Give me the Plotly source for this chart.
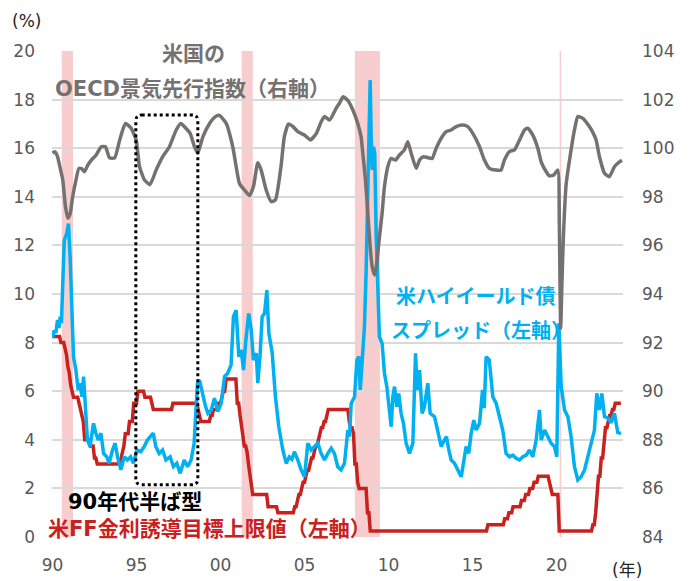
import numpy as np
import pandas as pd
import plotly.graph_objects as go

# ---- US OECD composite leading indicator (right axis) ----
cli_year = [1990.0, 1990.15, 1990.3, 1990.45, 1990.61, 1990.77, 1990.91, 1991.05, 1991.2, 1991.4,
            1991.57, 1991.75, 1991.9, 1992.1, 1992.3, 1992.6, 1992.9, 1993.15, 1993.4, 1993.7,
            1994.0, 1994.2, 1994.35, 1994.68, 1994.98, 1995.18, 1995.48, 1995.8, 1996.17, 1996.56,
            1996.96, 1997.36, 1997.64, 1997.9, 1998.2, 1998.45, 1998.65, 1998.95, 1999.35, 1999.7,
            1999.94, 2000.34, 2000.73, 2001.13, 2001.43, 2001.73, 2001.96, 2002.22, 2002.42, 2002.72,
            2003.02, 2003.27, 2003.6, 2003.8, 2004.05, 2004.3, 2004.6, 2005.0, 2005.35, 2005.7,
            2006.0, 2006.19, 2006.49, 2006.89, 2007.08, 2007.3, 2007.6, 2007.88, 2008.17, 2008.37,
            2008.47, 2008.63, 2008.77, 2008.91, 2009.03, 2009.17, 2009.3, 2009.42, 2009.62, 2009.76,
            2009.96, 2010.16, 2010.42, 2010.65, 2010.95, 2011.15, 2011.35, 2011.65, 2011.85, 2012.08,
            2012.4, 2012.6, 2012.84, 2013.14, 2013.43, 2013.73, 2014.03, 2014.42, 2014.72, 2015.02,
            2015.42, 2015.71, 2016.0, 2016.4, 2016.7, 2016.9, 2017.2, 2017.5, 2017.8, 2018.1,
            2018.29, 2018.59, 2018.89, 2019.09, 2019.39, 2019.58, 2019.84, 2020.08, 2020.17, 2020.25,
            2020.33, 2020.42, 2020.58, 2020.87, 2021.07, 2021.27, 2021.57, 2021.96, 2022.2, 2022.36,
            2022.56, 2022.86, 2023.15, 2023.45, 2023.75, 2023.9]
cli_value = [99.8, 99.85, 99.65, 99.2, 98.7, 97.6, 97.12, 97.3, 98.0, 98.7,
             99.17, 99.15, 99.03, 99.3, 99.5, 99.72, 100.06, 100.06, 99.6, 99.6,
             100.34, 100.8, 101.02, 100.82, 100.34, 99.24, 98.69, 98.5, 99.1, 99.65,
             100.06, 100.75, 101.02, 100.85, 100.6, 100.06, 99.8, 100.47, 101.02, 101.3,
             101.35, 101.02, 100.06, 98.55, 98.28, 98.05, 98.42, 99.4, 99.1, 98.28,
             97.8, 97.87, 99.24, 100.47, 101.0, 100.9, 100.68, 100.54, 100.34, 100.6,
             101.1, 101.3, 101.16, 101.65, 101.85, 102.12, 101.95, 101.57, 101.02, 100.47,
             99.8, 98.69, 97.32, 95.95, 95.12, 94.78, 95.26, 96.09, 97.32, 98.42,
             99.24, 99.58, 99.51, 99.72, 99.93, 100.27, 99.79, 99.17, 99.51, 99.65,
             99.6, 99.58, 100.0, 100.41, 100.68, 100.75, 100.89, 100.95, 100.89, 100.61,
             100.06, 99.51, 99.17, 99.1, 99.1, 99.51, 99.86, 99.93, 100.34, 100.75,
             100.82, 100.54, 100.0, 99.44, 99.03, 98.86, 98.9, 99.1, 96.8, 92.6,
             94.6, 96.5, 98.55, 99.93, 100.75, 101.3, 101.23, 100.89, 100.6, 100.34,
             99.65, 98.97, 98.83, 99.24, 99.44, 99.5]

# ---- US high-yield bond spread (left axis, %) ----
hy_year = [1990.0, 1990.1, 1990.2, 1990.3, 1990.38, 1990.46, 1990.53, 1990.6, 1990.7, 1990.85,
           1990.95, 1991.05, 1991.13, 1991.25, 1991.39, 1991.53, 1991.65, 1991.75, 1991.85, 1991.98,
           1992.08, 1992.24, 1992.44, 1992.58, 1992.72, 1992.88, 1993.04, 1993.23, 1993.37, 1993.57,
           1993.73, 1993.87, 1994.07, 1994.27, 1994.46, 1994.65, 1994.82, 1995.02, 1995.25, 1995.46,
           1995.65, 1995.82, 1996.0, 1996.15, 1996.35, 1996.55, 1996.75, 1997.0, 1997.2, 1997.4,
           1997.6, 1997.84, 1998.04, 1998.25, 1998.43, 1998.55, 1998.63, 1998.75, 1998.95, 1999.1,
           1999.25, 1999.45, 1999.64, 1999.84, 2000.04, 2000.24, 2000.43, 2000.63, 2000.77, 2000.93,
           2001.09, 2001.23, 2001.37, 2001.49, 2001.68, 2001.83, 2001.96, 2002.13, 2002.22, 2002.35,
           2002.48, 2002.62, 2002.76, 2002.88, 2003.08, 2003.27, 2003.47, 2003.71, 2003.91, 2004.1,
           2004.25, 2004.4, 2004.6, 2004.8, 2005.0, 2005.2, 2005.4, 2005.6, 2005.8, 2005.99,
           2006.19, 2006.39, 2006.59, 2006.78, 2006.98, 2007.18, 2007.38, 2007.58, 2007.68, 2007.78,
           2007.98, 2008.12, 2008.24, 2008.32, 2008.43, 2008.57, 2008.67, 2008.77, 2008.91, 2008.97,
           2009.03, 2009.11, 2009.18, 2009.27, 2009.36, 2009.46, 2009.62, 2009.76, 2009.9, 2010.02,
           2010.16, 2010.26, 2010.36, 2010.49, 2010.61, 2010.75, 2010.89, 2011.05, 2011.25, 2011.45,
           2011.61, 2011.71, 2011.85, 2012.0, 2012.14, 2012.34, 2012.48, 2012.74, 2012.93, 2013.14,
           2013.33, 2013.45, 2013.59, 2013.73, 2013.93, 2014.13, 2014.33, 2014.46, 2014.62, 2014.78,
           2014.92, 2015.08, 2015.22, 2015.42, 2015.6, 2015.7, 2015.81, 2016.0, 2016.21, 2016.41,
           2016.61, 2016.8, 2017.0, 2017.2, 2017.4, 2017.6, 2017.8, 2018.0, 2018.2, 2018.39,
           2018.59, 2018.79, 2018.99, 2019.09, 2019.29, 2019.48, 2019.68, 2019.88, 2020.02, 2020.14,
           2020.28, 2020.48, 2020.68, 2020.87, 2021.07, 2021.27, 2021.47, 2021.67, 2021.86, 2022.06,
           2022.26, 2022.4, 2022.56, 2022.7, 2022.86, 2023.05, 2023.25, 2023.45, 2023.65, 2023.85]
hy_spread = [8.18, 8.5, 8.4, 8.93, 8.6, 9.07, 8.8, 10.7, 12.2, 12.5,
             12.9, 11.5, 9.48, 7.42, 6.87, 6.05, 6.33, 5.77, 6.6, 5.23,
             3.99, 3.72, 4.68, 4.27, 3.99, 4.27, 3.44, 3.3, 3.03, 3.58,
             3.86, 3.3, 2.76, 3.3, 3.17, 3.3, 3.03, 3.58, 3.51, 3.72,
             3.99, 4.13, 4.27, 3.72, 3.44, 3.58, 3.17, 3.3, 2.89, 3.03,
             2.62, 3.17, 2.89, 3.17, 3.86, 5.36, 6.33, 6.46, 5.77, 5.4,
             5.09, 5.23, 5.71, 5.16, 5.5, 6.6, 6.74, 7.08, 9.07, 9.34,
             7.42, 7.7, 6.87, 7.97, 9.2, 8.52, 7.28, 7.56, 6.33, 7.42,
             9.07, 9.2, 10.16, 8.38, 7.56, 5.77, 4.54, 3.58, 3.03, 3.3,
             3.2, 3.51, 3.17, 2.76, 2.48, 3.86, 3.58, 3.72, 3.86, 3.44,
             3.17, 3.44, 3.65, 3.44, 2.89, 2.76, 3.03, 4.4, 4.13, 5.5,
             5.77, 7.28, 7.42, 6.05, 7.15, 8.66, 10.99, 15.1, 18.8, 16.47,
             15.1, 16.06, 15.79, 12.36, 10.3, 8.24, 7.97, 6.74, 6.19, 5.36,
             4.54, 5.77, 6.19, 5.36, 5.91, 5.09, 4.68, 3.86, 3.44, 3.86,
             7.56, 6.05, 6.87, 5.09, 5.36, 6.33, 5.09, 4.95, 4.4, 3.72,
             3.99, 4.13, 3.58, 3.17, 3.03, 2.76, 2.48, 3.03, 3.72, 3.44,
             4.27, 4.81, 4.4, 4.68, 6.05, 5.3, 7.42, 7.28, 5.77, 5.5,
             4.95, 4.4, 3.44, 3.3, 3.37, 3.24, 3.17, 3.3, 3.37, 3.58,
             3.3, 3.99, 5.23, 3.99, 4.4, 4.13, 3.86, 3.72, 3.3, 8.79,
             6.19, 5.23, 4.95, 4.13, 2.89, 2.35, 2.48, 2.76, 3.3, 3.72,
             4.4, 5.91, 5.23, 5.91, 4.95, 4.9, 4.7, 5.09, 4.3, 4.27]

# ---- Fed funds target (upper bound) change dates and levels (left axis, %) ----
ff_date = ["1990-01-01", "1990-07-13", "1990-10-29", "1990-11-13", "1990-12-07", "1990-12-18",
           "1991-01-09", "1991-02-01", "1991-03-08", "1991-04-30", "1991-08-06", "1991-09-13",
           "1991-10-31", "1991-11-06", "1991-12-06", "1991-12-20", "1992-04-09", "1992-07-02",
           "1992-09-04", "1994-02-04", "1994-03-22", "1994-04-18", "1994-05-17", "1994-08-16",
           "1994-11-15", "1995-02-01", "1995-07-06", "1995-12-19", "1996-01-31", "1997-03-25",
           "1998-09-29", "1998-10-15", "1998-11-17", "1999-06-30", "1999-08-24", "1999-11-16",
           "2000-02-02", "2000-03-21", "2000-05-16", "2001-01-03", "2001-01-31", "2001-03-20",
           "2001-04-18", "2001-05-15", "2001-06-27", "2001-08-21", "2001-09-17", "2001-10-02",
           "2001-11-06", "2001-12-11", "2002-11-06", "2003-06-25", "2004-06-30", "2004-08-10",
           "2004-09-21", "2004-11-10", "2004-12-14", "2005-02-02", "2005-03-22", "2005-05-03",
           "2005-06-30", "2005-08-09", "2005-09-20", "2005-11-01", "2005-12-13", "2006-01-31",
           "2006-03-28", "2006-05-10", "2006-06-29", "2007-09-18", "2007-10-31", "2007-12-11",
           "2008-01-22", "2008-01-30", "2008-03-18", "2008-04-30", "2008-10-08", "2008-10-29",
           "2008-12-16", "2015-12-17", "2016-12-15", "2017-03-16", "2017-06-15", "2017-12-14",
           "2018-03-22", "2018-06-14", "2018-09-27", "2018-12-20", "2019-08-01", "2019-09-19",
           "2019-10-31", "2020-03-04", "2020-03-16", "2022-03-17", "2022-05-05", "2022-06-16",
           "2022-07-28", "2022-09-22", "2022-11-03", "2022-12-15", "2023-02-02", "2023-03-23",
           "2023-05-04", "2023-07-27"]
ff_rate = [8.25, 8.0, 7.75, 7.5, 7.25, 7.0,
           6.75, 6.25, 6.0, 5.75, 5.5, 5.25,
           5.0, 4.75, 4.5, 4.0, 3.75, 3.25,
           3.0, 3.25, 3.5, 3.75, 4.25, 4.75,
           5.5, 6.0, 5.75, 5.5, 5.25, 5.5,
           5.25, 5.0, 4.75, 5.0, 5.25, 5.5,
           5.75, 6.0, 6.5, 6.0, 5.5, 5.0,
           4.5, 4.0, 3.75, 3.5, 3.0, 2.5,
           2.0, 1.75, 1.25, 1.0, 1.25, 1.5,
           1.75, 2.0, 2.25, 2.5, 2.75, 3.0,
           3.25, 3.5, 3.75, 4.0, 4.25, 4.5,
           4.75, 5.0, 5.25, 4.75, 4.5, 4.25,
           3.5, 3.0, 2.25, 2.0, 1.5, 1.0,
           0.25, 0.5, 0.75, 1.0, 1.25, 1.5,
           1.75, 2.0, 2.25, 2.5, 2.25, 2.0,
           1.75, 1.25, 0.25, 0.5, 1.0, 1.75,
           2.5, 3.25, 4.0, 4.5, 4.75, 5.0,
           5.25, 5.5]
ff_last_month = "2023-11-01"

# ---- US recession periods (shaded) ----
rec_start = [1990.55, 2001.26, 2008.0, 2020.19]
rec_end = [1991.22, 2001.92, 2009.49, 2020.28]

x_ticks = [1990, 1995, 2000, 2005, 2010, 2015, 2020]
x_tick_text = ["90", "95", "00", "05", "10", "15", "20"]

# monthly series of the target in effect at each month end
months = pd.date_range(ff_date[0], ff_last_month, freq="MS")
month_ends = months + pd.offsets.MonthEnd(0)
idx = np.searchsorted(pd.to_datetime(ff_date).values, month_ends.values, side="right") - 1
ff_month_x = (months.year + (months.month - 1) / 12).tolist()
ff_month_y = [ff_rate[i] for i in idx]

GRAY = "#757171"
BLUE = "#00B0F0"
RED = "#C9211E"
PINK = "#F7CDCD"
TICK = "#595959"
LABEL_FONT = "DejaVu Sans, Noto Sans CJK JP, sans-serif"

W, H = 693, 581
L, R, T, B = 52, 70, 51, 44
X0, X1 = 1989.97, 2023.96

fig = go.Figure()

fig.add_trace(go.Scatter(x=ff_month_x, y=ff_month_y, mode="lines", line=dict(color=RED, width=3.5),
                         yaxis="y", showlegend=False, hoverinfo="skip"))
fig.add_trace(go.Scatter(x=hy_year, y=hy_spread, mode="lines", line=dict(color=BLUE, width=3.5),
                         yaxis="y", showlegend=False, hoverinfo="skip"))
fig.add_trace(go.Scatter(x=cli_year, y=cli_value, mode="lines",
                         line=dict(color=GRAY, width=3.5, shape="spline", smoothing=0.5),
                         yaxis="y2", showlegend=False, hoverinfo="skip"))

shapes = []
for a, b in zip(rec_start, rec_end):
    shapes.append(dict(type="rect", xref="x", yref="paper", x0=a, x1=b, y0=0, y1=1,
                       fillcolor=PINK, line=dict(width=0), layer="between"))

# rounded dotted frame around the mid-1990s episode
bx0, bx1, by0, by1 = 1994.96, 1998.65, 2.15, 17.37
rx, ry = 0.35, 0.25
path = (f"M {bx0+rx},{by1} L {bx1-rx},{by1} Q {bx1},{by1} {bx1},{by1-ry} "
        f"L {bx1},{by0+ry} Q {bx1},{by0} {bx1-rx},{by0} "
        f"L {bx0+rx},{by0} Q {bx0},{by0} {bx0},{by0+ry} "
        f"L {bx0},{by1-ry} Q {bx0},{by1} {bx0+rx},{by1} Z")
shapes.append(dict(type="path", xref="x", yref="y", path=path,
                   line=dict(color="black", width=3, dash="dot"), layer="above"))

pw, ph = W - L - R, H - T - B


def px(x):
    return (x - L) / pw


def py(y):
    return (H - B - y) / ph


def label(text, x, y, color, size, anchor="left", bold=True):
    return dict(text=text, x=px(x), y=py(y), xref="paper", yref="paper",
                xanchor=anchor, yanchor="middle", showarrow=False, borderpad=0,
                font=dict(family=LABEL_FONT, size=size, color=color,
                          weight="bold" if bold else "normal"))


annotations = [
    label("米国の", 160.5, 54, GRAY, 21),
    label("OECD景気先行指数（右軸）", 54, 89, GRAY, 21),
    label("米ハイイールド債", 395, 297, BLUE, 20),
    label("スプレッド（左軸）", 390, 331, BLUE, 20),
    label("90年代半ば型", 67, 502, "black", 21),
    label("米FF金利誘導目標上限値（左軸）", 47, 529, RED, 21),
    label("(%)", 11, 21, "#262626", 17, bold=False),
    label("(年)", 611, 570, "#262626", 17, bold=False),
]

fig.update_layout(
    width=W, height=H,
    margin=dict(l=L, r=R, t=T, b=B, autoexpand=False),
    paper_bgcolor="white", plot_bgcolor="white",
    shapes=shapes, annotations=annotations,
    xaxis=dict(range=[X0, X1], tickvals=x_ticks, ticktext=x_tick_text, showgrid=False,
               zeroline=False, showline=False, ticks="", ticklabelstandoff=16, automargin=False,
               tickfont=dict(family="DejaVu Sans", size=17, color=TICK)),
    yaxis=dict(range=[0, 20], dtick=2, tick0=0, showgrid=True, gridcolor="#D9D9D9", gridwidth=2,
               zeroline=False, showline=False, ticks="", ticklabelstandoff=16, automargin=False,
               tickfont=dict(family="DejaVu Sans", size=17, color=TICK)),
    yaxis2=dict(range=[84, 104], dtick=2, tick0=84, overlaying="y", side="right", showgrid=False,
                zeroline=False, showline=False, ticks="", ticklabelstandoff=18, automargin=False,
                tickfont=dict(family="DejaVu Sans", size=17, color=TICK)),
)

fig.write_html("out.html")
